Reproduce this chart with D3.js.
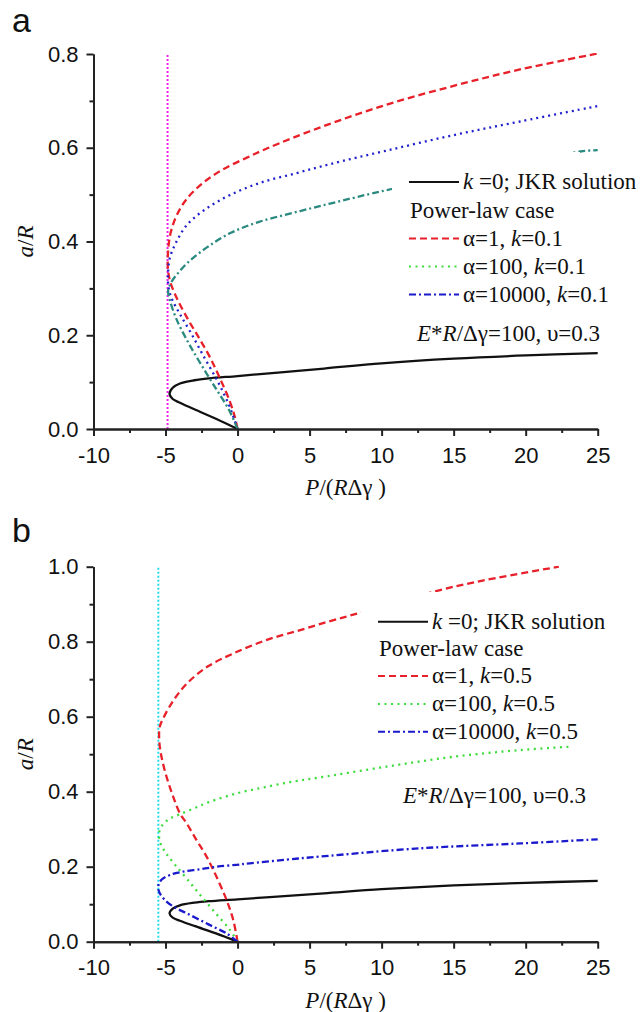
<!DOCTYPE html>
<html>
<head>
<meta charset="utf-8">
<title>a/R versus P/(R&Delta;&gamma;)</title>
<script src="https://d3js.org/d3.v7.min.js"></script>
<style>
  body { margin: 0; background: #fff; }
  svg { display: block; }
  .serif { font-family: "Liberation Serif", "Times New Roman", serif; font-size: 23px; fill: #111; }
  .letter { font-family: "Liberation Sans", Arial, sans-serif; font-size: 34px; fill: #111; }
</style>
</head>
<body>
<script>
// k = 0, JKR solution (same curve in both panels)
var jkrP = [0, -1.5, -3.0, -4.0, -4.5, -4.72, -4.5, -4.0, -3.0, -2.0, 0, 3, 6, 10, 15, 20, 25];
var jkrA = [0, 0.022, 0.042, 0.056, 0.064, 0.075, 0.088, 0.097, 0.104, 0.108, 0.113, 0.121, 0.129, 0.140, 0.150, 0.157, 0.162];

// panel a, k = 0.1
var a1P = [0, -0.2, -0.55, -1.25, -1.95, -2.75, -3.5, -4.2, -4.65, -4.83, -4.82, -4.65, -4.25, -3.55, -2.4, -1.0, 0.65, 2.15, 5.7, 10.35, 15, 19.6, 25];
var a1A = [0, 0.027, 0.06, 0.11, 0.155, 0.198, 0.237, 0.278, 0.312, 0.34, 0.38, 0.418, 0.454, 0.49, 0.525, 0.554, 0.579, 0.6, 0.643, 0.692, 0.732, 0.767, 0.801];
var a100P = [0, -0.3, -0.65, -1.35, -2.3, -3.2, -4.0, -4.55, -4.8, -4.82, -4.7, -4.3, -3.5, -2.13, -0.53, 1.55, 4.1, 6.4, 10.35, 15, 19.6, 25];
var a100A = [0, 0.027, 0.055, 0.1, 0.152, 0.203, 0.245, 0.277, 0.304, 0.335, 0.365, 0.396, 0.436, 0.471, 0.499, 0.525, 0.546, 0.565, 0.594, 0.627, 0.656, 0.689];
var a10kP = [0, -0.6, -1.5, -2.5, -3.45, -4.25, -4.7, -4.82, -4.6, -4.15, -3.35, -2.1, -0.5, 1.5, 4.35, 6.43, 10.7, 23.8, 25];
var a10kA = [0, 0.041, 0.086, 0.136, 0.186, 0.235, 0.275, 0.295, 0.313, 0.332, 0.358, 0.388, 0.418, 0.442, 0.465, 0.481, 0.512, 0.592, 0.595];
var pullOffA = -4.86;

// panel b, k = 0.5
var b1P = [0, -0.3, -0.76, -1.46, -2.15, -2.85, -3.54, -4.0, -4.47, -4.93, -5.28, -5.44, -5.4, -5.17, -4.44, -3.5, -2.11, -0.27, 2.04, 4.35, 6.43, 8.5, 14.3, 17.3, 22.3];
var b1A = [0, 0.058, 0.111, 0.173, 0.227, 0.271, 0.316, 0.342, 0.387, 0.44, 0.493, 0.538, 0.573, 0.595, 0.644, 0.689, 0.733, 0.769, 0.805, 0.831, 0.855, 0.877, 0.94, 0.965, 1.0];
var b100P = [0, -0.6, -1.5, -2.5, -3.5, -4.4, -5.0, -5.35, -5.45, -5.2, -4.7, -4.0, -3.0, -2.0, 0, 2.0, 4.0, 5.72, 10.35, 14.97, 19.6, 23.1];
var b100A = [0, 0.035, 0.075, 0.12, 0.167, 0.208, 0.238, 0.262, 0.29, 0.312, 0.328, 0.34, 0.356, 0.372, 0.396, 0.413, 0.428, 0.438, 0.467, 0.493, 0.511, 0.52];
var b10kP = [0, -0.76, -1.69, -2.62, -3.54, -4.24, -4.93, -5.4, -5.51, -5.28, -4.7, -3.78, -2.62, -1.46, -0.07, 0.85, 3.43, 5.72, 12.66, 19.6, 25];
var b10kA = [0, 0.022, 0.04, 0.058, 0.076, 0.089, 0.107, 0.129, 0.147, 0.165, 0.178, 0.187, 0.193, 0.2, 0.205, 0.209, 0.219, 0.227, 0.249, 0.262, 0.273];
var pullOffB = -5.5;

// axes ticks
var xTicks = [-10, -5, 0, 5, 10, 15, 20, 25];
var xMinor = [-7.5, -2.5, 2.5, 7.5, 12.5, 17.5, 22.5];
var yTicksA = [0, 0.2, 0.4, 0.6, 0.8];
var yMinorA = [0.1, 0.3, 0.5, 0.7];
var yTicksB = [0, 0.2, 0.4, 0.6, 0.8, 1.0];
var yMinorB = [0.1, 0.3, 0.5, 0.7, 0.9];

// legend labels: [text, italic]
var legendA = [
  [["k", 1], [" =0; JKR solution", 0]],
  [["Power-law case", 0]],
  [["\u03b1=1, ", 0], ["k", 1], ["=0.1", 0]],
  [["\u03b1=100, ", 0], ["k", 1], ["=0.1", 0]],
  [["\u03b1=10000, ", 0], ["k", 1], ["=0.1", 0]]
];
var legendB = [
  [["k", 1], [" =0; JKR solution", 0]],
  [["Power-law case", 0]],
  [["\u03b1=1, ", 0], ["k", 1], ["=0.5", 0]],
  [["\u03b1=100, ", 0], ["k", 1], ["=0.5", 0]],
  [["\u03b1=10000, ", 0], ["k", 1], ["=0.5", 0]]
];
var paramText = [["E", 1], ["*", 0], ["R", 1], ["/\u0394\u03b3=100, \u03c5=0.3", 0]];
var xTitle = [["P", 1], ["/(", 0], ["R", 1], ["\u0394\u03b3 )", 0]];
var yTitle = [["a", 1], ["/", 0], ["R", 1]];

var width = 642, height = 1012;
var svg = d3.select("body").append("svg").attr("width", width).attr("height", height);
svg.append("rect").attr("width", width).attr("height", height).attr("fill", "#fff");

var x = d3.scaleLinear().domain([-10, 25]).range([93.5, 597.7]);

function rich(g, px, py, parts, anchor) {
  var t = g.append("text").attr("class", "serif").attr("x", px).attr("y", py)
    .attr("text-anchor", anchor || "start");
  parts.forEach(function(p) {
    t.append("tspan").text(p[0]).style("font-style", p[1] ? "italic" : "normal");
  });
  return t;
}

var styles = {
  jkr:   { color: "#111", dash: null },
  red:   { color: "#e8202a", dash: "7,4" },
  bdot:  { color: "#2020cc", dash: "2,4" },
  teal:  { color: "#2a8a80", dash: "7,3,2,3" },
  green: { color: "#3ddc3d", dash: "2,4.5" },
  bdd:   { color: "#1a1acc", dash: "7,3,2,3" }
};

function drawPanel(cfg) {
  var y = d3.scaleLinear().domain([0, cfg.yMax]).range(cfg.yRange);
  var g = svg.append("g");
  var clipId = "clip" + cfg.name;
  svg.append("clipPath").attr("id", clipId).append("rect")
    .attr("x", x(-10)).attr("y", y(cfg.yMax) - 1)
    .attr("width", x(25) - x(-10) + 2).attr("height", y(0) - y(cfg.yMax) + 1);

  var line = d3.line().x(function(d) { return x(d[0]); }).y(function(d) { return y(d[1]); })
    .curve(d3.curveCatmullRom.alpha(0.5));

  var plot = g.append("g").attr("clip-path", "url(#" + clipId + ")");
  // pull-off line
  plot.append("line")
    .attr("x1", x(cfg.pullOff)).attr("x2", x(cfg.pullOff))
    .attr("y1", y(0)).attr("y2", y(cfg.yMax))
    .attr("stroke", cfg.pullColor).attr("stroke-width", 2).attr("stroke-dasharray", "2,2");

  cfg.series.forEach(function(s) {
    var st = styles[s.style];
    plot.append("path").datum(d3.zip(s.p, s.a))
      .attr("d", line).attr("fill", "none")
      .attr("stroke", st.color).attr("stroke-width", 2.3)
      .attr("stroke-dasharray", st.dash);
  });

  // axes
  var bottom = y(0);
  function styleAxis(sel) {
    sel.attr("font-family", "Liberation Sans, Arial, sans-serif").attr("font-size", 22);
    sel.selectAll("path, line").attr("stroke", "#222").attr("stroke-width", 2);
    sel.selectAll("text").attr("fill", "#111");
  }
  g.append("g").attr("transform", "translate(0," + bottom + ")")
    .call(d3.axisBottom(x).tickValues(xMinor).tickSize(4).tickSizeOuter(0).tickFormat(""))
    .call(styleAxis);
  g.append("g").attr("transform", "translate(0," + bottom + ")")
    .call(d3.axisBottom(x).tickValues(xTicks).tickSize(7).tickSizeOuter(0).tickPadding(11)
      .tickFormat(function(d) { return String(d); }))
    .call(styleAxis);
  g.append("g").attr("transform", "translate(" + x(-10) + ",0)")
    .call(d3.axisLeft(y).tickValues(cfg.yMinor).tickSize(4).tickSizeOuter(0).tickFormat(""))
    .call(styleAxis);
  g.append("g").attr("transform", "translate(" + x(-10) + ",0)")
    .call(d3.axisLeft(y).tickValues(cfg.yTicks).tickSize(7).tickSizeOuter(0).tickPadding(8)
      .tickFormat(d3.format(".1f")))
    .call(styleAxis);

  // titles
  rich(g, (x(-10) + x(25)) / 2, bottom + 66, xTitle, "middle");
  var yt = g.append("g").attr("transform", "translate(33," + (y(0) + y(cfg.yMax)) / 2 + ") rotate(-90)");
  rich(yt, 0, 0, yTitle, "middle");
  g.append("text").attr("class", "letter").attr("x", 12).attr("y", cfg.letterY).text(cfg.name);

  // legend with white background
  var lg = cfg.legend;
  g.append("rect").attr("x", lg.box[0]).attr("y", lg.box[1])
    .attr("width", lg.box[2]).attr("height", lg.box[3]).attr("fill", "#fff");
  var sampleStyles = ["jkr", null, "red", "green", "bdd"];
  lg.labels.forEach(function(parts, i) {
    var cy = lg.rows[i];
    var st = sampleStyles[i];
    if (st) {
      g.append("line").attr("x1", lg.x0).attr("x2", lg.x0 + 50).attr("y1", cy).attr("y2", cy)
        .attr("stroke", styles[st].color).attr("stroke-width", 2)
        .attr("stroke-dasharray", styles[st].dash);
      rich(g, lg.x0 + 54, cy + 7, parts);
    } else {
      rich(g, lg.x0 + 1, cy + 7, parts);
    }
  });
  rich(g, lg.paramX, lg.paramY, paramText);
}

drawPanel({
  name: "a", yMax: 0.8, yRange: [429, 54], yTicks: yTicksA, yMinor: yMinorA,
  pullOff: pullOffA, pullColor: "#ee22ee", letterY: 32,
  series: [
    { p: jkrP, a: jkrA, style: "jkr" },
    { p: a1P, a: a1A, style: "red" },
    { p: a100P, a: a100A, style: "bdot" },
    { p: a10kP, a: a10kA, style: "teal" }
  ],
  legend: { box: [392, 152, 188, 155], x0: 409, rows: [182, 211, 238.5, 266.5, 294.5],
            labels: legendA, paramX: 417, paramY: 341 }
});

drawPanel({
  name: "b", yMax: 1.0, yRange: [941.7, 566.7], yTicks: yTicksB, yMinor: yMinorB,
  pullOff: pullOffB, pullColor: "#22dcec", letterY: 542,
  series: [
    { p: jkrP, a: jkrA, style: "jkr" },
    { p: b1P, a: b1A, style: "red" },
    { p: b100P, a: b100A, style: "green" },
    { p: b10kP, a: b10kA, style: "bdd" }
  ],
  legend: { box: [361, 592, 240, 152], x0: 378, rows: [621.7, 649, 676, 704, 731.7],
            labels: legendB, paramX: 403, paramY: 803 }
});
</script>
</body>
</html>
